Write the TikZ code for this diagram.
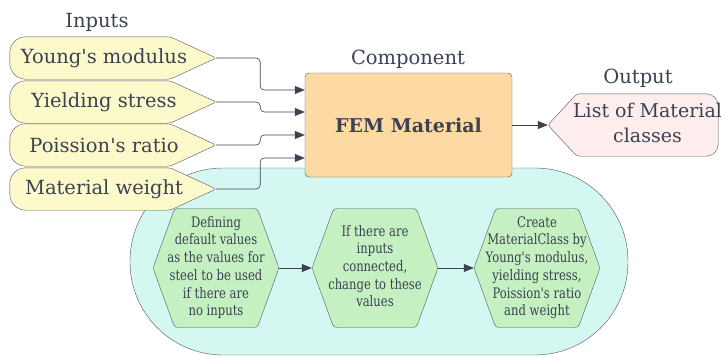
\documentclass[tikz,border=0pt]{standalone}
\usepackage{fontspec}
\setmainfont[Ligatures=TeXOff]{DejaVu Serif}
\newfontfamily\hexfont[Ligatures=TeXOff, FakeStretch=0.8]{DejaVu Serif}
\usetikzlibrary{arrows.meta, backgrounds, shapes.symbols}

\definecolor{inkgray}{HTML}{3B4252}
\definecolor{linegray}{HTML}{50565F}
\definecolor{inyellow}{HTML}{FCF9CB}
\definecolor{femorange}{HTML}{FDDAA3}
\definecolor{outpink}{HTML}{FDEDED}
\definecolor{poolcyan}{HTML}{D4F7F1}
\definecolor{hexgreen}{HTML}{C5F0C1}

% centred lines that may run over the shape they sit in
\newcommand{\lines}[1]{\makebox[0pt]{\begin{tabular}{@{}c@{}}#1\end{tabular}}}

\begin{document}
\begin{tikzpicture}[
    x=1pt, y=-1pt,
    every node/.style={text=inkgray},
    title/.style={font=\fontsize{19.5}{21}\selectfont},
    inbox/.style={font=\fontsize{19.5}{21}\selectfont, minimum width=188pt,
      minimum height=42pt, inner sep=0pt},
    inshape/.style={draw=linegray, fill=inyellow, rounded corners=3pt},
    fembox/.style={draw=linegray, fill=femorange, rounded corners=4pt,
      minimum width=207pt, minimum height=104pt,
      font=\bfseries\fontsize{19}{21}\selectfont},
    outbox/.style={minimum width=141pt, minimum height=62pt,
      inner sep=0pt, font=\fontsize{19}{25}\selectfont},
    hexbox/.style={signal, signal to=east and west, signal pointer angle=140,
      draw=linegray, fill=hexgreen, rounded corners=3pt,
      minimum width=126pt, minimum height=119pt, inner sep=0pt,
      font=\hexfont\fontsize{14.5}{17.7}\selectfont},
    pool/.style={draw=linegray, fill=poolcyan, rounded corners=93pt},
    arr/.style={draw=inkgray, semithick, -{Triangle[length=10pt,width=8pt]},
      rounded corners=4pt}
  ]
  \useasboundingbox (0,0) rectangle (721,356);

  \node[title] (inputs-title) at (97,22) {Inputs};
  \node[title] (component-title) at (408,59) {Component};
  \node[title] (output-title) at (638,78) {Output};

  \node[inbox] (young) at (104,58) {Young's modulus};
  \node[inbox] (yield) at (104,102) {Yielding stress};
  \node[inbox] (poisson) at (104,145) {Poission's ratio};
  \node[inbox] (weight) at (104,189) {Material weight};
  \foreach \n in {young,yield,poisson,weight}
    \coordinate (\n-tip) at ([xshift=18pt]\n.east);

  \node[fembox] (fem) at (408.5,125) {FEM Material};
  \node[outbox] (out) at (647.5,125)
    {\raisebox{-4pt}{\lines{List of Material\\classes}}};
  \coordinate (out-tip) at ([xshift=-29pt]out.west);

  \node[hexbox] (defaults) at (216,268)
    {\lines{Defining\\default values\\as the values for\\steel to be used\\if there are\\no inputs}};
  \node[hexbox] (overwrite) at (375,268)
    {\lines{If there are\\inputs\\connected,\\change to these\\values}};
  \node[hexbox] (create) at (537,268)
    {\lines{Create\\MaterialClass by\\Young's modulus,\\yielding stress,\\Poission's ratio\\and weight}};

  \draw[arr] (young-tip) -- ++(44,0) |- ([yshift=35pt]fem.west);
  \draw[arr] (yield-tip) -- ++(44,0) |- ([yshift=13pt]fem.west);
  \draw[arr] (poisson-tip) -- ++(44,0) |- ([yshift=-10pt]fem.west);
  \draw[arr] (weight-tip) -- ++(44,0) |- ([yshift=-33pt]fem.west);
  \draw[arr] (fem.east) -- (out-tip);
  \draw[arr] (defaults.east) -- (overwrite.west);
  \draw[arr] (overwrite.east) -- (create.west);

  \begin{scope}[on background layer]
    \draw[pool] (130,168) rectangle (628,355);
    \foreach \n in {young,yield,poisson,weight}
      \draw[inshape] (\n.north) -- ([xshift=-28pt]\n.north east) -- (\n-tip)
        -- ([xshift=-28pt]\n.south east) [rounded corners=16pt] -- (\n.south west)
        -- (\n.north west) -- cycle;
    \draw[inshape, fill=outpink] (out.south) -- (out.south west) -- (out-tip)
      -- (out.north west) [rounded corners=12pt] -- (out.north east)
      -- (out.south east) -- cycle;
  \end{scope}
\end{tikzpicture}
\end{document}
